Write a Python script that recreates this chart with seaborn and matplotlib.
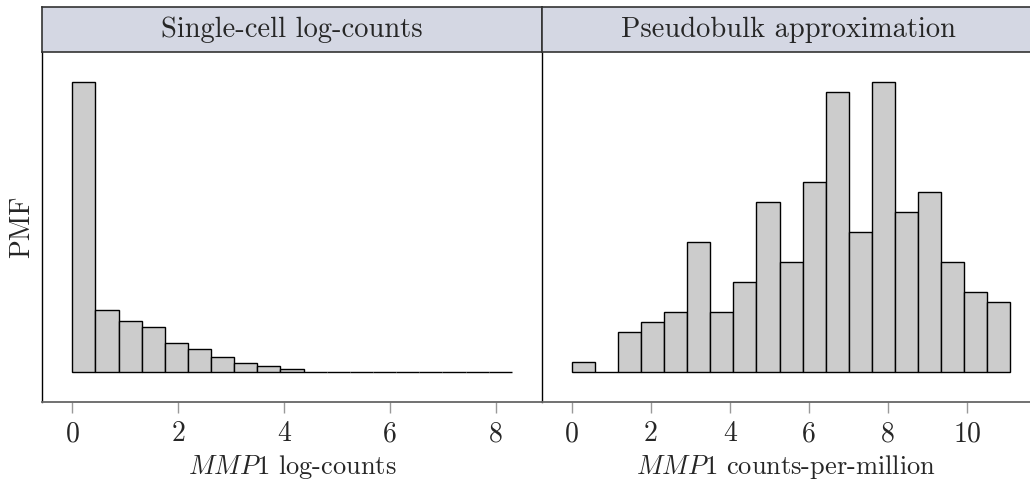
import numpy as np
import pandas as pd
import matplotlib
matplotlib.use("Agg")
import matplotlib.pyplot as plt
import seaborn as sns

# Single-cell log-counts: 19 equal-width bins from 0 to 8.3
sc_edges_range = (0.0, 8.3)
sc_pmf = [0.537, 0.116, 0.094, 0.083, 0.055, 0.044, 0.029, 0.018, 0.012,
          0.0068, 0.0013, 0.0012, 0.0009, 0.0006, 0.0003, 0.0002, 0.0002,
          0.0002, 0.0002]

# Pseudobulk approximation: counts per bin, 19 equal-width bins from 0 to 11.1
pb_edges_range = (0.0, 11.1)
pb_counts = [1, 0, 4, 5, 6, 13, 6, 9, 17, 11, 19, 28, 14, 29, 16, 18, 11, 8, 7]

panel_titles = ["Single-cell log-counts", "Pseudobulk approximation"]
x_labels = [r"$\mathit{MMP}\mathrm{1}$ log-counts",
            r"$\mathit{MMP}\mathrm{1}$ counts-per-million"]
y_label = "PMF"
left_ticks = [0, 2, 4, 6, 8]
right_ticks = [0, 2, 4, 6, 8, 10]

sns.set_theme(style="white")
plt.rcParams["font.family"] = ["cmr10", "DejaVu Serif"]
plt.rcParams["mathtext.fontset"] = "cm"
plt.rcParams["axes.formatter.use_mathtext"] = True

W, H = 1030, 488
fig = plt.figure(figsize=(W / 100, H / 100), dpi=100)


def fx(px):
    return px / W


def fy(py):
    return 1 - py / H


ax_top, ax_bot = 51.7, 401.7
strip_top = 7.3
x0, xmid, x1 = 42.3, 541.7, 1030.0

ax_l = fig.add_axes([fx(x0), fy(ax_bot), fx(xmid - x0), (ax_bot - ax_top) / H])
ax_r = fig.add_axes([fx(xmid), fy(ax_bot), fx(x1 - xmid), (ax_bot - ax_top) / H])

pb_total = sum(pb_counts)
pb_pmf = [c / pb_total for c in pb_counts]

panels = [
    (ax_l, sc_edges_range, sc_pmf, left_ticks, (-0.567, 8.865)),
    (ax_r, pb_edges_range, pb_pmf, right_ticks, (-0.759, 11.594)),
]

for ax, (lo, hi), vals, ticks, xlim in panels:
    n = len(vals)
    edges = np.linspace(lo, hi, n + 1)
    centers = (edges[:-1] + edges[1:]) / 2
    df = pd.DataFrame({"value": centers, "pmf": vals})
    sns.histplot(data=df, x="value", weights="pmf",
                 bins=[float(e) for e in edges], stat="count",
                 color="#CCCCCC", edgecolor="black", linewidth=1.0,
                 alpha=1.0, ax=ax)
    top = max(vals)
    ax.set_ylim(-0.101 * top, 1.103 * top)
    ax.set_xlim(*xlim)
    ax.set_xticks(ticks)
    ax.set_xticklabels([str(t) for t in ticks])
    ax.set_yticks([])
    ax.set_ylabel("")
    ax.tick_params(axis="x", length=8, width=1.0, color="#999999",
                   labelsize=20, pad=6, bottom=True)
    for s in ["top", "right"]:
        ax.spines[s].set_visible(False)
    ax.spines["bottom"].set_color("#666666")
    ax.spines["bottom"].set_linewidth(1.3)
    ax.spines["left"].set_color("black")
    ax.spines["left"].set_linewidth(1.0)

ax_l.set_xlabel(x_labels[0], fontsize=19, labelpad=4)
ax_r.set_xlabel(x_labels[1], fontsize=19, labelpad=4)
fig.text(fx(22), fy((ax_top + ax_bot) / 2), y_label, rotation=90,
         ha="center", va="center", fontsize=20)

# Facet header strips
for (a, b), title in zip([(x0, xmid), (xmid, x1 + 5)], panel_titles):
    sax = fig.add_axes([fx(a), fy(ax_top), fx(b - a), (ax_top - strip_top) / H])
    sax.set_facecolor("#D4D7E3")
    sax.set_xticks([])
    sax.set_yticks([])
    for s in sax.spines.values():
        s.set_color("#333333")
        s.set_linewidth(1.2)
    sax.text(0.5, 0.5, title, ha="center", va="center", fontsize=20.5,
             transform=sax.transAxes)

fig.savefig("out.png", dpi=100)
